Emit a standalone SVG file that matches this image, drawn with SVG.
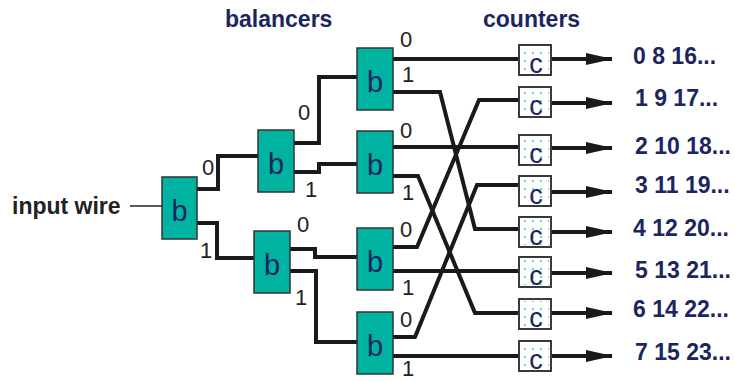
<svg xmlns="http://www.w3.org/2000/svg" width="735" height="381" viewBox="0 0 735 381">
<defs>
<style>
.hdr{font-family:"Liberation Sans",Arial,sans-serif;font-weight:bold;font-size:23px;fill:#1b2560}
.in{font-family:"Liberation Sans",Arial,sans-serif;font-weight:bold;font-size:23px;fill:#222}
.lbl{font-family:"Liberation Sans",Arial,sans-serif;font-size:22px;fill:#222}
.bal rect{fill:#00b3a1;stroke:#333;stroke-width:1.5}
.bal text{font-family:"Liberation Sans",Arial,sans-serif;font-size:29px;fill:#1b2560;text-anchor:middle}
.cnt rect.bg{fill:#fff;stroke:#3a3a3a;stroke-width:2}
.cnt rect.dt{fill:url(#dots)}
.cnt text{font-family:"Liberation Sans",Arial,sans-serif;font-size:27px;fill:#1b2560;text-anchor:middle}
.w{fill:none;stroke:#1a1a1a;stroke-width:4;stroke-linejoin:miter}
.arr{fill:none;stroke:#1a1a1a;stroke-width:4;marker-end:url(#ah)}
</style>
<pattern id="dots" patternUnits="userSpaceOnUse" x="521" y="1" width="8" height="8">
<circle cx="4" cy="4" r="1" fill="#2fc4b6"/>
</pattern>
<marker id="ah" markerUnits="userSpaceOnUse" viewBox="0 0 27 12" refX="26" refY="6" markerWidth="27" markerHeight="12" orient="auto">
<path d="M0,0 L27,6 L0,12 Z" fill="#1a1a1a"/>
</marker>
</defs>
<rect width="735" height="381" fill="#fff"/>
<text class="hdr" x="225" y="27">balancers</text>
<text class="hdr" x="483" y="27">counters</text>
<text class="in" x="12" y="214">input wire</text>
<g id="connectors">
<line x1="130" y1="206" x2="162" y2="206" stroke="#222" stroke-width="1.5"/>
<polyline class="w" points="197,189 218,189 218,156 258,156"/>
<polyline class="w" points="197,223 217,223 217,258 254,258"/>
<polyline class="w" points="294,143 319,143 319,77 357,77"/>
<polyline class="w" points="294,172 319,172 319,164 357,164"/>
<polyline class="w" points="290,249 315,249 315,257 357,257"/>
<polyline class="w" points="290,271 316,271 316,342 357,342"/>
<polyline class="w" points="393,59 519,59"/>
<polyline class="w" points="393,92 440,92 475,229 519,229"/>
<polyline class="w" points="393,147 519,147"/>
<polyline class="w" points="393,176 418,176 475,313 519,313"/>
<polyline class="w" points="393,247 417,247 479,100 519,100"/>
<polyline class="w" points="393,271 519,271"/>
<polyline class="w" points="393,337 415,337 477,185 519,185"/>
<polyline class="w" points="393,356 519,356"/>
<line class="arr" x1="551" y1="59" x2="612" y2="59"/>
<line class="arr" x1="551" y1="103" x2="612" y2="103"/>
<line class="arr" x1="551" y1="148" x2="612" y2="148"/>
<line class="arr" x1="551" y1="192" x2="612" y2="192"/>
<line class="arr" x1="551" y1="232" x2="612" y2="232"/>
<line class="arr" x1="551" y1="273" x2="612" y2="273"/>
<line class="arr" x1="551" y1="313" x2="612" y2="313"/>
<line class="arr" x1="551" y1="356" x2="612" y2="356"/>
<text class="lbl" x="202" y="175">0</text>
<text class="lbl" x="200" y="258">1</text>
<text class="lbl" x="298" y="120">0</text>
<text class="lbl" x="305" y="197">1</text>
<text class="lbl" x="297" y="232">0</text>
<text class="lbl" x="295" y="305">1</text>
<text class="lbl" x="400" y="47">0</text>
<text class="lbl" x="402" y="82">1</text>
<text class="lbl" x="400" y="138">0</text>
<text class="lbl" x="402" y="200">1</text>
<text class="lbl" x="400" y="237">0</text>
<text class="lbl" x="402" y="295">1</text>
<text class="lbl" x="400" y="327">0</text>
<text class="lbl" x="402" y="376">1</text>
</g>
<g id="b0" class="bal"><rect x="162" y="177" width="35" height="62"/><text x="179.5" y="221">b</text></g>
<g id="b1" class="bal"><rect x="258" y="130" width="36" height="62"/><text x="276" y="174">b</text></g>
<g id="b2" class="bal"><rect x="254" y="231" width="36" height="62"/><text x="272" y="275">b</text></g>
<g id="b3" class="bal"><rect x="357" y="48" width="36" height="62"/><text x="375" y="92">b</text></g>
<g id="b4" class="bal"><rect x="357" y="131" width="36" height="62"/><text x="375" y="175">b</text></g>
<g id="b5" class="bal"><rect x="357" y="228" width="36" height="62"/><text x="375" y="272">b</text></g>
<g id="b6" class="bal"><rect x="357" y="312" width="36" height="62"/><text x="375" y="356">b</text></g>
<g id="c0" class="cnt"><rect class="bg" x="519" y="45" width="32" height="30"/><rect class="dt" x="521" y="47" width="28" height="26"/><text x="536" y="73">c</text></g>
<g id="c1" class="cnt"><rect class="bg" x="519" y="87" width="32" height="30"/><rect class="dt" x="521" y="89" width="28" height="26"/><text x="536" y="115">c</text></g>
<g id="c2" class="cnt"><rect class="bg" x="519" y="135" width="32" height="30"/><rect class="dt" x="521" y="137" width="28" height="26"/><text x="536" y="163">c</text></g>
<g id="c3" class="cnt"><rect class="bg" x="519" y="176" width="32" height="30"/><rect class="dt" x="521" y="178" width="28" height="26"/><text x="536" y="204">c</text></g>
<g id="c4" class="cnt"><rect class="bg" x="519" y="217" width="32" height="30"/><rect class="dt" x="521" y="219" width="28" height="26"/><text x="536" y="245">c</text></g>
<g id="c5" class="cnt"><rect class="bg" x="519" y="257" width="32" height="30"/><rect class="dt" x="521" y="259" width="28" height="26"/><text x="536" y="285">c</text></g>
<g id="c6" class="cnt"><rect class="bg" x="519" y="299" width="32" height="30"/><rect class="dt" x="521" y="301" width="28" height="26"/><text x="536" y="327">c</text></g>
<g id="c7" class="cnt"><rect class="bg" x="519" y="341" width="32" height="30"/><rect class="dt" x="521" y="343" width="28" height="26"/><text x="536" y="369">c</text></g>
<text class="hdr" x="633" y="64">0 8 16...</text>
<text class="hdr" x="635" y="106">1 9 17...</text>
<text class="hdr" x="635" y="154">2 10 18...</text>
<text class="hdr" x="635" y="193">3 11 19...</text>
<text class="hdr" x="633" y="236">4 12 20...</text>
<text class="hdr" x="635" y="278">5 13 21...</text>
<text class="hdr" x="633" y="317">6 14 22...</text>
<text class="hdr" x="635" y="360">7 15 23...</text>
</svg>
